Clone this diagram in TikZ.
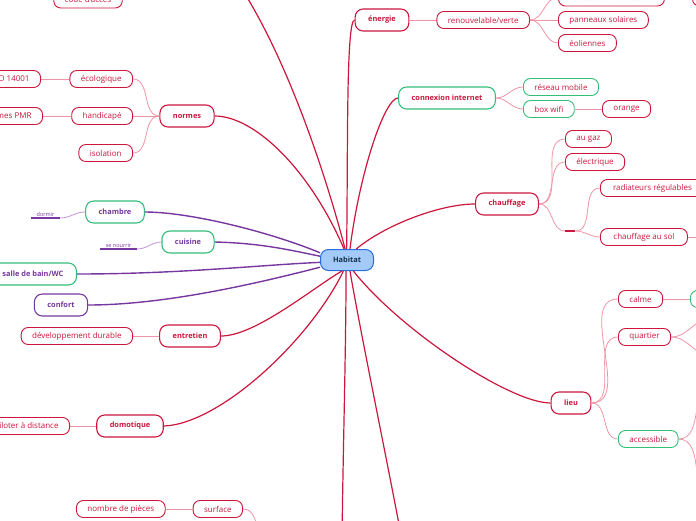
\documentclass[tikz,border=0pt]{standalone}
\usepackage{fontspec}
\setmainfont{Open Sans}
\usepackage{tikz}
\usetikzlibrary{positioning}
\usepackage{xcolor}
\definecolor{hred}{RGB}{204, 22, 60}
\definecolor{hpink}{RGB}{238, 150, 168}
\definecolor{hpurple}{RGB}{118, 56, 160}
\definecolor{hlilac}{RGB}{190, 150, 215}
\definecolor{hgreen}{RGB}{52, 190, 120}
\definecolor{hblue}{RGB}{40, 110, 220}
\definecolor{hsky}{RGB}{164, 202, 250}
\definecolor{hink}{RGB}{20, 50, 70}

\begin{document}
\begin{tikzpicture}[x=1pt, y=-1pt, font=\fontsize{8}{9}\selectfont,
  root/.style={rectangle, rounded corners=8pt, draw=hblue, line width=1pt, fill=hsky, text=hink, font=\fontsize{7.4}{8}\selectfont\bfseries, minimum width=53pt, minimum height=21pt, inner sep=0pt},
  topic/.style={rectangle, rounded corners=8pt, draw=hred, line width=1.1pt, fill=white, text=hred, font=\fontsize{7.4}{8}\selectfont\bfseries, minimum height=22pt, inner xsep=13pt, inner ysep=0pt},
  sub/.style={rectangle, rounded corners=7pt, draw=hred, line width=0.9pt, fill=white, text=hred, minimum height=17pt, inner xsep=11pt, inner ysep=0pt},
  leaf/.style={text=hpurple, font=\fontsize{5.5}{6}\selectfont, inner sep=1pt},
  trunk/.style={draw=hred, line width=1.2pt},
  vtrunk/.style={draw=hpurple, line width=1.4pt},
  twig/.style={draw=hpink, line width=0.8pt},
  vtwig/.style={draw=hlilac, line width=0.8pt},
  ul/.style={draw=hpurple, line width=1.6pt},
  bar/.style={draw=hred, line width=1.6pt}]
  \useasboundingbox (0,0) rectangle (696,520);
  \clip (0,0) rectangle (696,520);

  \node[root] (hab) at (347,260) {Habitat};

  \node[topic] (normes) at (187,116) {normes};
  \node[sub, anchor=east] (ecolo) at (133,79) {écologique};
  \node[sub, anchor=east] (iso) at (41,79) {ISO 14001};
  \node[sub, anchor=east] (handi) at (133,116) {handicapé};
  \node[sub, anchor=east] (pmr) at (43,116) {normes PMR};
  \node[sub, anchor=east] (isol) at (133,153) {isolation};
  \node[sub] (code) at (88,-0.5) {code d'accès};
  \node[topic, draw=hgreen, text=hpurple] (chambre) at (115,212) {chambre};
  \node[leaf, minimum width=29pt, anchor=south] (dormir) at (45.5,218) {dormir};
  \node[topic, draw=hgreen, text=hpurple] (cuisine) at (188,242) {cuisine};
  \node[leaf, minimum width=37pt, anchor=south] (nourrir) at (118.5,249) {se nourrir};
  \node[topic, draw=hgreen, text=hpurple, anchor=east] (sdb) at (77,274) {salle de bain/WC};
  \node[topic, draw=hpurple, text=hpurple] (confort) at (61,305) {confort};
  \node[topic] (entretien) at (190,336) {entretien};
  \node[sub, anchor=east] (devdur) at (133,336) {développement durable};
  \node[topic] (domo) at (130,426) {domotique};
  \node[sub, anchor=east] (piloter) at (70,426) {piloter à distance};
  \node[sub, anchor=east] (surface) at (243,509) {surface};
  \node[sub, left=27pt of surface] (pieces) {nombre de pièces};

  \node[topic] (energie) at (382,20) {énergie};
  \node[sub, right=27pt of energie] (renouv) {renouvelable/verte};
  \node[sub, anchor=west, minimum width=106pt] (elec) at (558,-2.5) {électricité verte};
  \node[sub, anchor=west, minimum width=40pt] (coin) at (692,-2.5) {};
  \node[sub, anchor=west] (panneaux) at (558,20) {panneaux solaires};
  \node[sub, anchor=west] (eol) at (558,43) {éoliennes};
  \node[topic, draw=hgreen] (internet) at (447,98) {connexion internet};
  \node[sub, draw=hgreen, anchor=west] (mobile) at (523,87) {réseau mobile};
  \node[sub, draw=hgreen, anchor=west] (wifi) at (523,109) {box wifi};
  \node[sub, anchor=west] (orange) at (602,109) {orange};
  \node[topic] (chauff) at (507,204) {chauffage};
  \node[sub, anchor=west] (gaz) at (565,139) {au gaz};
  \node[sub, anchor=west] (elecq) at (565,162) {électrique};
  \node[inner sep=0pt, minimum width=10pt, anchor=west] (relai) at (565,231) {};
  \node[sub, anchor=west, minimum width=104pt] (radia) at (600,188) {radiateurs régulables};
  \node[sub, anchor=west, minimum width=87pt] (sol) at (600,237) {chauffage au sol};
  \node[topic] (lieu) at (571,403) {lieu};
  \node[sub, anchor=west] (calme) at (618,299) {calme};
  \node[sub, draw=hgreen, anchor=west, minimum width=40pt] (calme2) at (690,299) {};
  \node[sub, anchor=west] (quartier) at (618,337) {quartier};
  \node[sub, draw=hgreen, anchor=west] (access) at (618,439) {accessible};

  \coordinate (secu) at (236,-20);
  \coordinate (codeup) at (140,-14);
  \coordinate (bas1) at (342,540);
  \coordinate (bas2) at (402,540);
  \coordinate (surfup) at (258,532);
  \coordinate (solnext) at (710,237);
  \coordinate (quart1) at (712,318);
  \coordinate (quart2) at (712,356);
  \coordinate (acc1) at (715,380);
  \coordinate (acc2) at (715,500);

  \draw[trunk] (secu) .. controls (290,60) and (330,190) .. (hab.100);
  \draw[trunk] (normes.east) .. controls (255,116) and (310,170) .. (hab.105);
  \draw[trunk] (energie.west) .. controls (346,20) and (348,150) .. (hab.92);
  \draw[trunk] (internet.west) .. controls (385,98) and (360,170) .. (hab.75);
  \draw[trunk] (chauff.west) .. controls (440,204) and (385,225) .. (hab.50);
  \draw[trunk] (hab.300) .. controls (400,330) and (510,403) .. (lieu.west);
  \draw[trunk] (entretien.east) .. controls (255,336) and (310,290) .. (hab.245);
  \draw[trunk] (domo.east) .. controls (220,424) and (310,340) .. (hab.252);
  \draw[trunk] (hab.265) .. controls (346,350) and (343,450) .. (bas1);
  \draw[trunk] (hab.285) .. controls (362,340) and (385,450) .. (bas2);
  \draw[vtrunk] (chambre.east) .. controls (190,212) and (270,232) .. (hab.165);
  \draw[vtrunk] (cuisine.east) .. controls (260,243) and (290,250) .. (hab.172);
  \draw[vtrunk] (sdb.east) .. controls (180,274) and (260,265) .. (hab.185);
  \draw[vtrunk] (confort.east) .. controls (170,305) and (270,280) .. (hab.195);

  \draw[twig] (normes.west) to[out=180, in=0] (ecolo.east);
  \draw[twig] (normes.west) -- (handi.east);
  \draw[twig] (normes.west) to[out=180, in=0] (isol.east);
  \draw[twig] (ecolo.west) -- (iso.east);
  \draw[twig] (handi.west) -- (pmr.east);
  \draw[twig] (code.east) to[out=0, in=240] (codeup);
  \draw[ul] (dormir.south west) -- (dormir.south east);
  \draw[vtwig] (dormir.south east) to[out=0, in=180] (chambre.west);
  \draw[ul] (nourrir.south west) -- (nourrir.south east);
  \draw[vtwig] (nourrir.south east) to[out=0, in=180] (cuisine.west);
  \draw[twig] (entretien.west) -- (devdur.east);
  \draw[twig] (domo.west) -- (piloter.east);
  \draw[twig] (surface.west) -- (pieces.east);
  \draw[twig] (surface.east) to[out=0, in=100] (surfup);

  \draw[twig] (energie.east) -- (renouv.west);
  \draw[twig] (renouv.east) to[out=0, in=180] (elec.west);
  \draw[twig] (renouv.east) -- (panneaux.west);
  \draw[twig] (renouv.east) to[out=0, in=180] (eol.west);
  \draw[twig] (internet.east) to[out=0, in=180] (mobile.west);
  \draw[twig] (internet.east) to[out=0, in=180] (wifi.west);
  \draw[twig] (wifi.east) -- (orange.west);
  \draw[twig] (chauff.east) to[out=0, in=180] (gaz.west);
  \draw[twig] (chauff.east) to[out=0, in=180] (elecq.west);
  \draw[twig] (chauff.east) to[out=0, in=180] (relai.west);
  \draw[bar] (relai.west) -- (relai.east);
  \draw[twig] (relai.east) to[out=0, in=180] (radia.west);
  \draw[twig] (relai.east) to[out=0, in=180] (sol.west);
  \draw[twig] (sol.east) -- (solnext);
  \draw[twig] (lieu.east) to[out=0, in=180] (calme.west);
  \draw[twig] (lieu.east) to[out=0, in=180] (quartier.west);
  \draw[twig] (lieu.east) to[out=0, in=180] (access.west);
  \draw[twig] (calme.east) -- (calme2.west);
  \draw[twig] (quartier.east) to[out=0, in=180] (quart1);
  \draw[twig] (quartier.east) to[out=0, in=180] (quart2);
  \draw[twig] (access.east) to[out=0, in=180] (acc1);
  \draw[twig] (access.east) to[out=0, in=180] (acc2);
\end{tikzpicture}
\end{document}
